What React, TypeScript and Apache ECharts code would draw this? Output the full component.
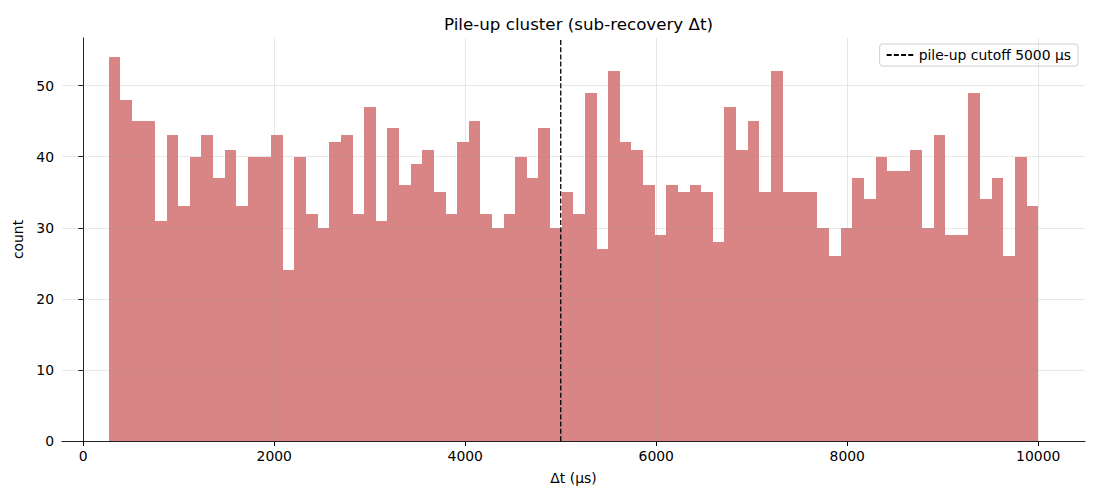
import React, { useEffect, useRef } from "react";
import * as echarts from "echarts";

// Histogram: 80 equal-width bins between binStart and binEnd (µs)
const binStart = 264;
const binEnd = 10000;
const counts = [
  54, 48, 45, 45, 31, 43, 33, 40, 43, 37,
  41, 33, 40, 40, 43, 24, 40, 32, 30, 42,
  43, 32, 47, 31, 44, 36, 39, 41, 35, 32,
  42, 45, 32, 30, 32, 40, 37, 44, 30, 35,
  32, 49, 27, 52, 42, 41, 36, 29, 36, 35,
  36, 35, 28, 47, 41, 45, 35, 52, 35, 35,
  35, 30, 26, 30, 37, 34, 40, 38, 38, 41,
  30, 43, 29, 29, 49, 34, 37, 26, 40, 33,
];
const cutoff = 5000;
const xTicks = [0, 2000, 4000, 6000, 8000, 10000];
const yTicks = [0, 10, 20, 30, 40, 50];
const xMin = -223;
const xMax = 10490;
const yMax = 56.7;
const cutoffName = "pile-up cutoff 5000 µs";

const FONT = "DejaVu Sans";

export default function App() {
  const ref = useRef<HTMLDivElement>(null);
  useEffect(() => {
    document.body.style.margin = "0";
    const chart = echarts.init(ref.current!, null, { renderer: "svg" });
    const w = (binEnd - binStart) / counts.length;
    const bins = counts.map((c, i) => [binStart + i * w, binStart + (i + 1) * w, c]);
    const gridLine = { color: "rgba(150,150,150,0.28)", width: 0.8, type: "solid" };
    chart.setOption({
      animation: false,
      textStyle: { fontFamily: FONT },
      title: {
        text: "Pile-up cluster (sub-recovery Δt)",
        left: 573.5,
        top: 10,
        textAlign: "center",
        textStyle: { fontFamily: FONT, fontSize: 16.7, fontWeight: "normal", color: "#000" },
      },
      legend: {
        data: [cutoffName],
        right: 22,
        top: 44,
        padding: [4, 7, 4, 6],
        itemWidth: 27,
        itemHeight: 10,
        itemGap: 10,
        itemStyle: { opacity: 0 },
        borderColor: "#d0d0d0",
        borderWidth: 1,
        borderRadius: 3,
        backgroundColor: "rgba(255,255,255,0.8)",
        textStyle: { fontFamily: FONT, fontSize: 13.9, color: "#000" },
      },
      grid: { left: 62, right: 15, top: 38, bottom: 59, containLabel: false },
      xAxis: {
        type: "value",
        min: xMin,
        max: xMax,
        name: "Δt (µs)",
        nameLocation: "middle",
        nameGap: 30,
        nameTextStyle: { fontFamily: FONT, fontSize: 13.9, color: "#000" },
        axisLine: { show: true, onZero: false, lineStyle: { color: "#000", width: 1 } },
        axisTick: { show: true, customValues: xTicks, length: 5, lineStyle: { color: "#000", width: 1 } },
        axisLabel: {
          customValues: xTicks,
          formatter: (v: number) => String(v),
          fontFamily: FONT,
          fontSize: 13.9,
          color: "#000",
          margin: 8,
        },
        splitLine: { show: false },
      },
      yAxis: {
        type: "value",
        min: 0,
        max: yMax,
        name: "count",
        nameLocation: "middle",
        nameGap: 36,
        nameTextStyle: { fontFamily: FONT, fontSize: 13.9, color: "#000" },
        axisLine: { show: true, lineStyle: { color: "#000", width: 1 } },
        axisTick: { show: true, customValues: yTicks, length: 5, lineStyle: { color: "#000", width: 1 } },
        axisLabel: {
          customValues: yTicks,
          formatter: (v: number) => String(v),
          fontFamily: FONT,
          fontSize: 13.9,
          color: "#000",
          margin: 8,
        },
        splitLine: { show: false },
      },
      series: [
        {
          type: "custom",
          name: "counts",
          z: 1,
          data: bins,
          encode: { x: [0, 1], y: 2 },
          renderItem: (params: any, api: any) => {
            const p0 = api.coord([api.value(0), api.value(2)]);
            const p1 = api.coord([api.value(1), 0]);
            const x0 = Math.round(p0[0]);
            const x1 = Math.round(p1[0]);
            const y0 = Math.round(p0[1]);
            const y1 = Math.round(p1[1]);
            return {
              type: "rect",
              shape: { x: x0, y: y0, width: x1 - x0, height: y1 - y0 },
              style: { fill: "#d98585", stroke: null },
            };
          },
        },
        {
          type: "line",
          name: "grid",
          data: [],
          z: 2,
          silent: true,
          markLine: {
            silent: true,
            symbol: "none",
            label: { show: false },
            lineStyle: gridLine,
            data: [
              ...xTicks.map((v) => ({ xAxis: v })),
              ...yTicks.map((v) => ({ yAxis: v })),
            ],
          },
        },
        {
          type: "line",
          name: cutoffName,
          z: 3,
          data: [
            [cutoff, 0],
            [cutoff, yMax],
          ],
          symbol: "none",
          lineStyle: { color: "#000", width: 1.3, type: [5, 2.2] },
          itemStyle: { color: "#000" },
        },
      ],
    });
    return () => chart.dispose();
  }, []);
  return <div ref={ref} style={{ width: 1100, height: 500 }} />;
}
